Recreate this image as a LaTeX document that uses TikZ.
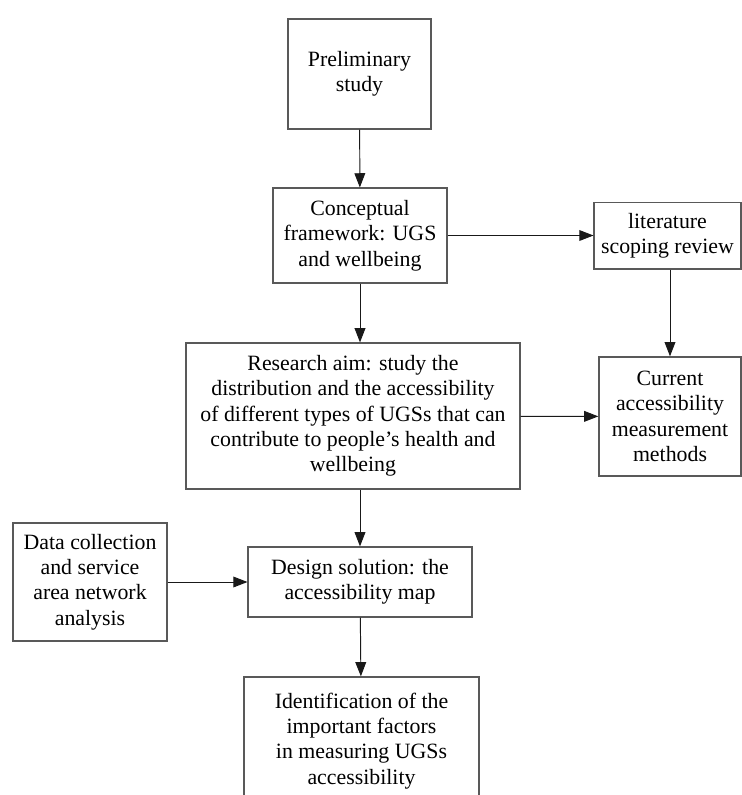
\documentclass[tikz,border=0pt]{standalone}
\usepackage{fontspec}
\setmainfont{Liberation Serif}
\usetikzlibrary{arrows.meta}
\tikzstyle{process} = [rectangle, draw=black!65, line width=0.8pt, align=center, inner sep=2pt, font=\fontsize{14.6}{16.9}\selectfont]
\tikzstyle{arrow} = [line width=0.65pt, draw=black!90, -{Triangle[length=9.5pt, width=7.2pt]}]

\begin{document}
\begin{tikzpicture}[x=0.0235cm, y=-0.0235cm]

\useasboundingbox (0,0) rectangle (742,795);

\node (pre) [process, minimum width=3.36cm, minimum height=2.585cm] at (359.5,74) {Preliminary\\study};

\node (cf) [process, minimum width=4.09cm, minimum height=2.23cm] at (360,235.5) {Conceptual\\framework: UGS\\and wellbeing};
\node (lit) [process, minimum width=3.45cm, minimum height=1.57cm] at (667.5,235.5) {literature\\scoping review};

\node (aim) [process, minimum width=7.85cm, minimum height=3.43cm] at (353,416) {Research aim: study the\\distribution and the accessibility\\of different types of UGSs that can\\contribute to people's health and\\wellbeing};
\node (cur) [process, minimum width=3.34cm, minimum height=2.8cm] at (670,416.5) {Current\\accessibility\\measurement\\methods};

\node (data) [process, minimum width=3.62cm, minimum height=2.77cm] at (90,582) {Data collection\\and service\\area network\\analysis};
\node (des) [process, minimum width=5.26cm, minimum height=1.645cm] at (360,582) {Design solution: the\\accessibility map};

\node (ident) [process, minimum width=5.52cm, minimum height=3.01cm] at (361.5,741) {Identification of the\\important factors\\in measuring UGSs\\accessibility};

\draw [arrow] (pre) -- (cf);
\draw [arrow] (cf) -- (lit);
\draw [arrow] (lit.south -| cur) -- (cur);
\draw [arrow] (cf) -- (cf |- aim.north);
\draw [arrow] (aim) -- (cur);
\draw [arrow] (aim.south -| des) -- (des);
\draw [arrow] (data) -- (des);
\draw [arrow] (des) -- (ident);

\end{tikzpicture}
\end{document}
